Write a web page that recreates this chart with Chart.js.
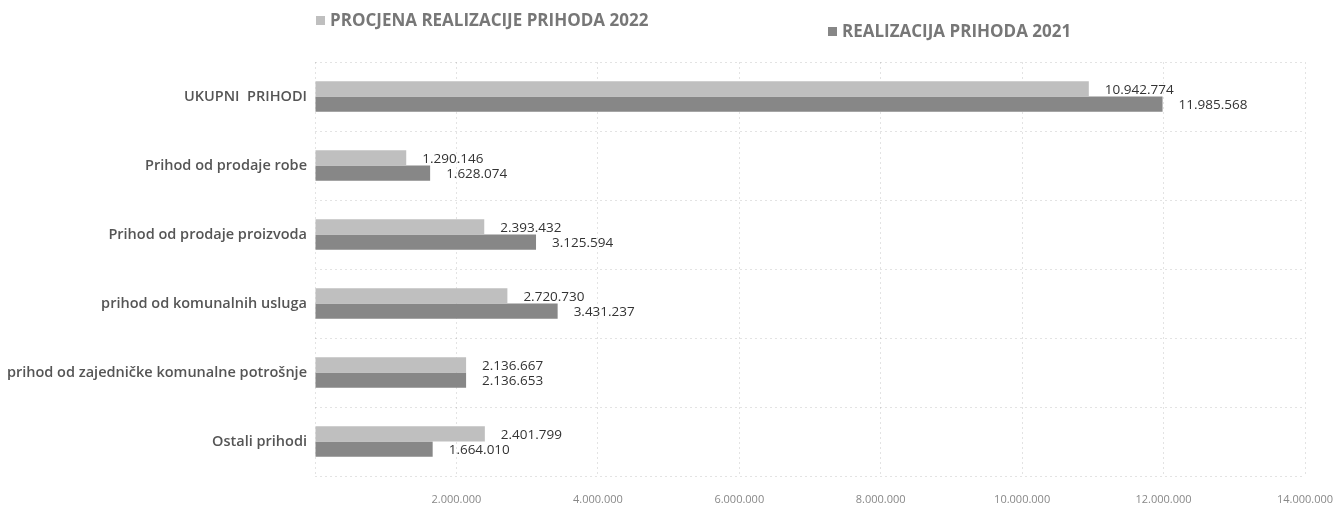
<!DOCTYPE html>
<html>
<head>
<meta charset="utf-8">
<script src="https://cdn.jsdelivr.net/npm/chart.js@4.4.1/dist/chart.umd.min.js"></script>
<style>
  body{margin:0;background:#fff;font-family:"Open Sans",sans-serif;}
  #wrap{position:relative;width:1334px;height:511px;}
  .leg{position:absolute;font-size:17px;font-weight:700;color:#777;white-space:nowrap;}
  .leg span{display:inline-block;width:9px;height:9px;margin-right:5px;vertical-align:1px;}
</style>
</head>
<body>
<div id="wrap">
  <canvas id="c"></canvas>
  <div id="leg1" class="leg"></div>
  <div id="leg2" class="leg"></div>
</div>
<script>
const categories=[
  "UKUPNI  PRIHODI",
  "Prihod od prodaje robe",
  "Prihod od prodaje proizvoda",
  "prihod od komunalnih usluga",
  "prihod od zajedničke komunalne potrošnje",
  "Ostali prihodi"
];
const seriesNames=["PROCJENA REALIZACIJE PRIHODA  2022","REALIZACIJA PRIHODA 2021"];
const values2022=[10942774,1290146,2393432,2720730,2136667,2401799];
const values2021=[11985568,1628074,3125594,3431237,2136653,1664010];
const colors=["#bfbfbf","#878787"];

function fmt(n){
  return String(n).replace(/\B(?=(\d{3})+(?!\d))/g,".");
}

// legenda
[["leg1",316,8],["leg2",828,19]].forEach(([id,x,y],i)=>{
  const el=document.getElementById(id);
  el.style.left=x+"px";
  el.style.top=y+"px";
  el.innerHTML=`<span style="background:${colors[i]}"></span>${seriesNames[i]}`;
});

// vrijednosti na kraju stupca
const barLabels={
  id:"barLabels",
  afterDatasetsDraw(chart){
    const ctx=chart.ctx;
    ctx.save();
    ctx.font="13.5px 'Open Sans'";
    ctx.fillStyle="#333";
    ctx.textBaseline="middle";
    ctx.textAlign="left";
    chart.data.datasets.forEach((ds,di)=>{
      chart.getDatasetMeta(di).data.forEach((bar,i)=>{
        ctx.fillText(fmt(ds.data[i]),bar.x+16,bar.y+1);
      });
    });
    ctx.restore();
  }
};

new Chart(document.getElementById("c"),{
  type:"bar",
  data:{
    labels:categories,
    datasets:[
      {label:seriesNames[0],data:values2022,backgroundColor:colors[0]},
      {label:seriesNames[1],data:values2021,backgroundColor:colors[1]}
    ]
  },
  options:{
    indexAxis:"y",
    responsive:true,
    maintainAspectRatio:false,
    animation:false,
    categoryPercentage:0.44,
    barPercentage:1,
    layout:{padding:{top:62,right:0,bottom:0,left:0}},
    plugins:{legend:{display:false},tooltip:{enabled:false}},
    scales:{
      x:{
        min:0,max:14000000,
        border:{display:false,dash:[2,3]},
        grid:{color:"rgba(0,0,0,0.11)",drawTicks:false},
        ticks:{
          stepSize:2000000,
          padding:17,
          color:"#888",
          font:{family:"Open Sans",size:11},
          callback:v=>v===0?"":fmt(v)
        },
        afterFit:s=>{s.height=35;s.paddingRight=29;}
      },
      y:{
        border:{display:false,dash:[2,3]},
        grid:{color:"rgba(0,0,0,0.11)",drawTicks:false},
        ticks:{
          padding:8,
          color:"#555",
          font:{family:"Open Sans",size:14.5,weight:"600"}
        },
        afterFit:s=>{s.width=315;}
      }
    }
  },
  plugins:[barLabels]
});
</script>
</body>
</html>
